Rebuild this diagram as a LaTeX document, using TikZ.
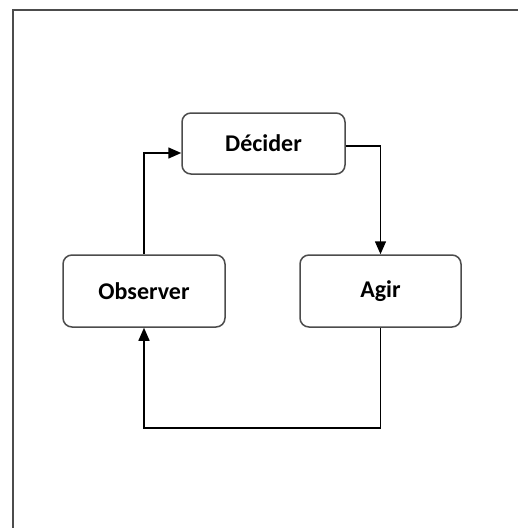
\documentclass[tikz,border=0pt]{standalone}
\usepackage{fontspec}
\setmainfont{Carlito}
\usetikzlibrary{shapes,arrows.meta}
\definecolor{boxgray}{rgb}{0.3, 0.3, 0.3}

\begin{document}
\begin{tikzpicture}[x=1pt,y=1pt,
  etape/.style={draw=boxgray,line width=1.5pt,rounded corners=9pt,fill=white,
    font=\fontsize{24}{27}\selectfont\bfseries,inner sep=0pt},
  fleche/.style={line width=1.5pt,-{Triangle[length=13pt,width=11pt]}}]
\useasboundingbox (0,0) rectangle (518,-528);
\clip (0,0) rectangle (518,-528);
\draw[line width=1.6pt,draw=boxgray] (13,-10) rectangle (540,-560);
\node[etape,minimum width=163pt,minimum height=61pt] (dec) at (263.5,-143.5) {Décider};
\node[etape,minimum width=162pt,minimum height=72pt] (obs) at (144,-291) {Observer};
\node[etape,minimum width=161pt,minimum height=72pt] (agir) at (380.5,-291) {Agir};
\draw[fleche]  (obs.north) |- ([yshift=-9.5pt]dec.west);
\draw[fleche]  ([yshift=-2.5pt]dec.east) -| (agir.north);
\draw[fleche]  (agir.south) -- ++(0,-100) -| (obs.south);
\end{tikzpicture}
\end{document}
